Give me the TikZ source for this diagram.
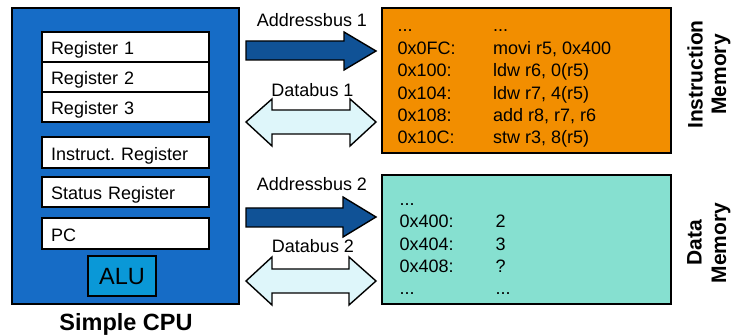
\documentclass[tikz,border=0pt]{standalone}
\usepackage{fontspec}
\setmainfont{Liberation Sans}
\frenchspacing
\definecolor{cpublue}{RGB}{22,108,198}
\definecolor{alublue}{RGB}{10,152,215}
\definecolor{addrblue}{RGB}{16,82,150}
\definecolor{datacyan}{RGB}{222,246,250}
\definecolor{imorange}{RGB}{242,142,0}
\definecolor{dmteal}{RGB}{134,224,208}
\tikzset{
  regbox/.style={draw=black, fill=white, line width=1.4pt, minimum width=167pt,
    text width=149pt, inner xsep=9pt, inner ysep=0pt, align=left,
    text height=16pt, text depth=0pt, font=\fontsize{18}{21}\selectfont},
  membox/.style={draw=black, line width=1.6pt, minimum width=289pt},
  memtxt/.style={anchor=base west, inner sep=0pt, font=\fontsize{18}{21}\selectfont},
  buslabel/.style={anchor=base, inner sep=0pt, font=\fontsize{18}{21}\selectfont},
  sidelabel/.style={anchor=base, inner sep=0pt, rotate=90, font=\fontsize{21}{24}\selectfont\bfseries},
  addrarrow/.style={draw=black, fill=addrblue, line width=1.4pt, line join=miter},
  dataarrow/.style={draw=black, fill=datacyan, line width=1.4pt, line join=miter}
}
\begin{document}
\begin{tikzpicture}[x=1pt,y=-1pt]
\useasboundingbox (0,0) rectangle (732,336);
% CPU
\node[draw=black, fill=cpublue, line width=2pt, minimum width=227pt, minimum height=296pt, inner sep=0pt] (cpu) at (125.5,156) {};
\node[anchor=base, inner sep=0pt, font=\fontsize{23.5}{26}\selectfont\bfseries] (cpulabel) at (126,331) {Simple CPU};
\node[regbox, minimum height=30pt] (r1) at (125.5,47) {Register 1};
\node[regbox, minimum height=30pt] (r2) at (125.5,77) {Register 2};
\node[regbox, minimum height=30pt] (r3) at (125.5,107) {Register 3};
\node[regbox, minimum height=31pt] (ir) at (125.5,152.5) {Instruct. Register};
\node[regbox, minimum height=30pt] (sr) at (125.5,192) {Status Register};
\node[regbox, minimum height=31pt] (pc) at (125.5,233.5) {PC};
\node[draw=black, fill=alublue, line width=1.4pt, minimum width=68pt, minimum height=40pt, inner sep=0pt,
  text height=16.8pt, text depth=0pt, font=\fontsize{23.5}{26}\selectfont] (alu) at (122,276) {ALU};
% Memories
\node[membox, fill=imorange, minimum height=145pt] (im) at (526.5,80.5) {};
\node[membox, fill=dmteal, minimum height=129pt] (dm) at (526.5,239.5) {};
\foreach \y/\a/\b [count=\i] in {32/{...}/{...}, 54.4/{0x0FC:}/{movi r5, 0x400}, 76.8/{0x100:}/{ldw r6, 0(r5)}, 99.2/{0x104:}/{ldw r7, 4(r5)}, 121.6/{0x108:}/{add r8, r7, r6}, 144/{0x10C:}/{stw r3, 8(r5)}}{
  \node[memtxt] (ia\i) at (397.5,\y) {\a};
  \node[memtxt] (ib\i) at (493,\y) {\b};
}
\foreach \y/\a/\b [count=\i] in {205.5/{...}/{}, 228/{0x400:}/{2}, 250.3/{0x404:}/{3}, 272.6/{0x408:}/{?}, 295/{...}/{...}}{
  \node[memtxt] (da\i) at (399.5,\y) {\a};
  \node[memtxt] (db\i) at (495.5,\y) {\b};
}
\node[sidelabel] (iml1) at (702.7,74.5) {Instruction};
\node[sidelabel] (iml2) at (726,74.5) {Memory};
\node[sidelabel] (dml1) at (701.7,243) {Data};
\node[sidelabel] (dml2) at (726,243) {Memory};
% Buses
\draw[addrarrow] (246,41) -- (344,41) -- (344,32) -- (376,51) -- (344,70) -- (344,60) -- (246,60) -- cycle;
\draw[dataarrow] (246,122) -- (272,99) -- (272,110) -- (350,110) -- (350,99) -- (376,122) -- (350,146) -- (350,134) -- (272,134) -- (272,146) -- cycle;
\draw[addrarrow] (246,208) -- (343,208) -- (343,197) -- (376,217) -- (343,237) -- (343,227) -- (246,227) -- cycle;
\draw[dataarrow] (246,281) -- (272,257) -- (272,269) -- (349,269) -- (349,257) -- (376,281) -- (349,305) -- (349,293) -- (272,293) -- (272,305) -- cycle;
\node[buslabel] (ab1) at (312,26.7) {Addressbus 1};
\node[buslabel] (db1) at (312.5,97) {Databus 1};
\node[buslabel] (ab2) at (312,191) {Addressbus 2};
\node[buslabel] (db2) at (313,252.7) {Databus 2};
\end{tikzpicture}
\end{document}
